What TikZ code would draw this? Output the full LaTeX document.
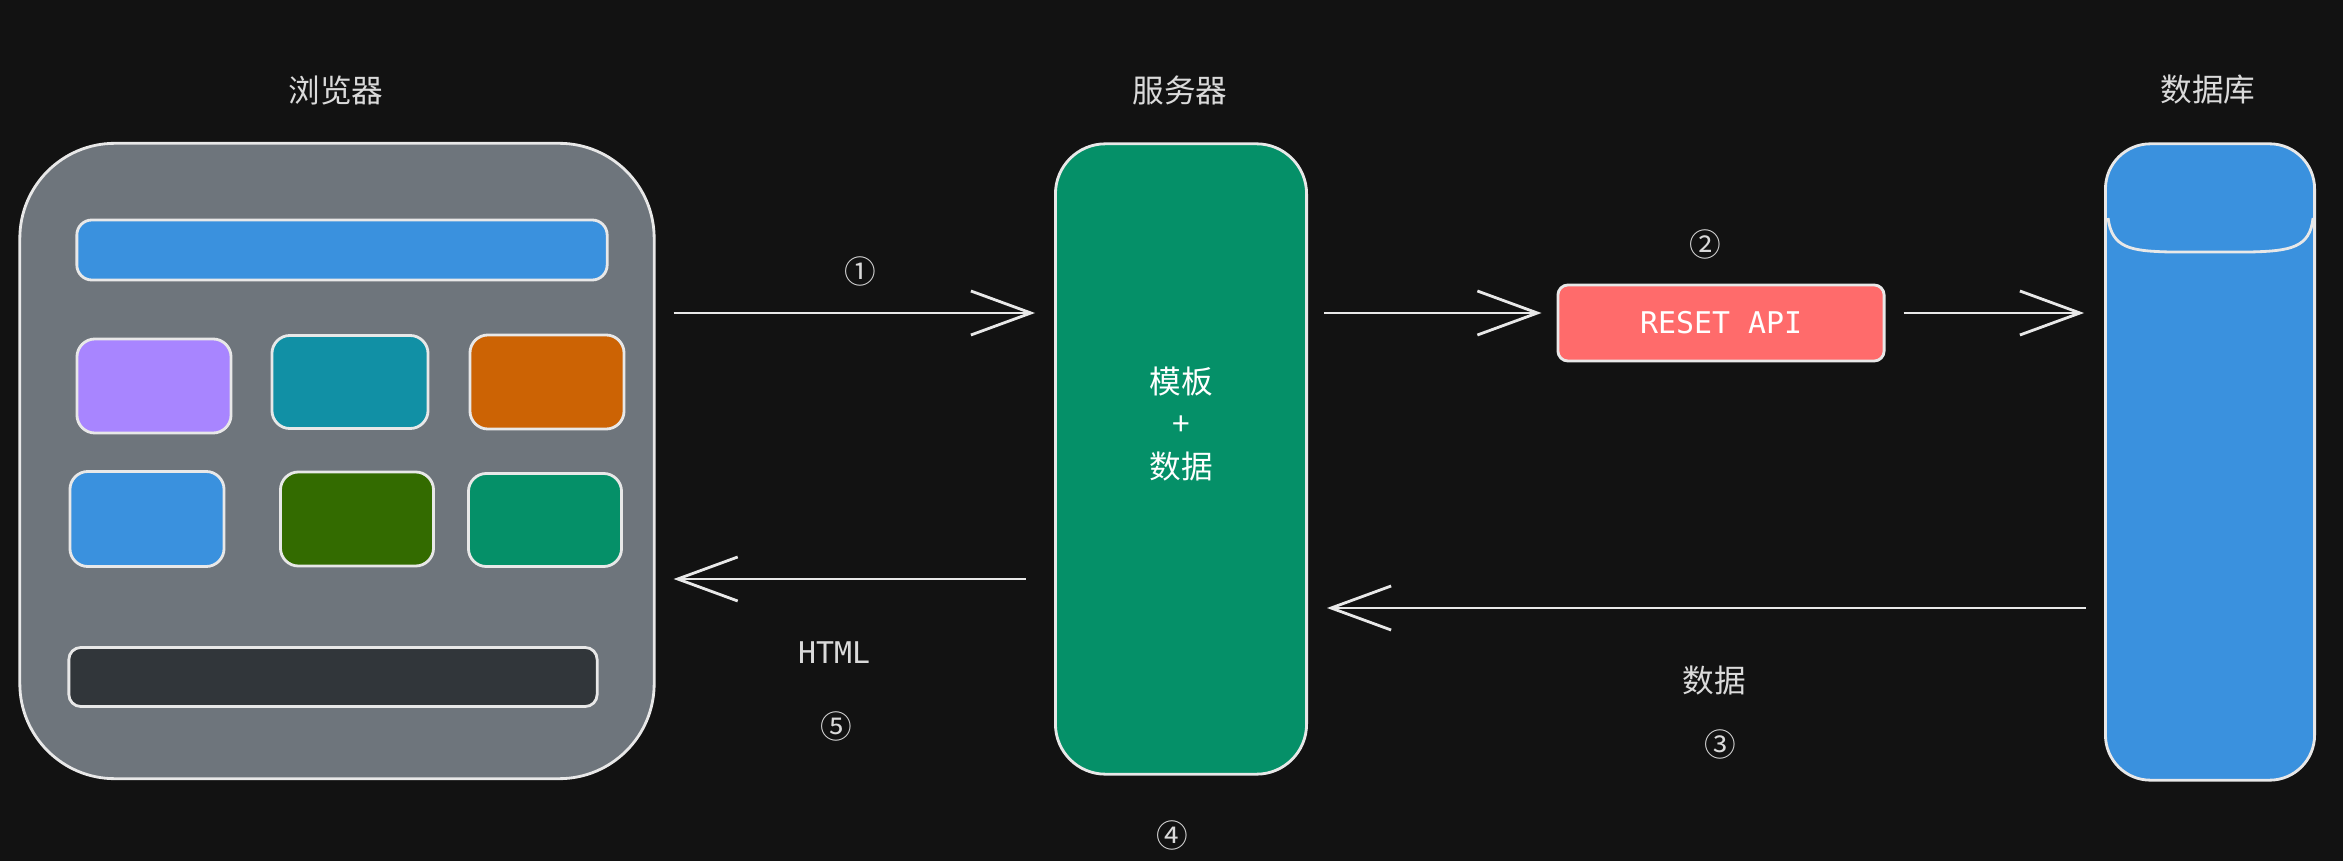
\documentclass[tikz,border=0pt]{standalone}
\usepackage{fontspec}
\setmainfont{Noto Sans CJK SC}
\newfontfamily\monofont{DejaVu Sans Mono}
\usepackage{xcolor}
\usetikzlibrary{arrows.meta, positioning, calc}
\definecolor{bgc}{HTML}{121212}
\definecolor{linec}{HTML}{E8E8E8}
\definecolor{txtc}{HTML}{DADADA}
\definecolor{grayc}{HTML}{6E757C}
\definecolor{bluec}{HTML}{3A91DE}
\definecolor{purplec}{HTML}{A885FF}
\definecolor{tealc}{HTML}{1190A5}
\definecolor{orangec}{HTML}{CC6304}
\definecolor{greenc}{HTML}{336B00}
\definecolor{mintc}{HTML}{059068}
\definecolor{darkc}{HTML}{31363A}
\definecolor{redc}{HTML}{FF6B6B}

\begin{document}
\begin{tikzpicture}[x=0.01cm, y=-0.01cm,
    box/.style={draw=linec, line width=0.8pt, inner sep=0pt},
    arr/.style={draw=linec, line width=0.8pt, -{Straight Barb[length=0.6cm, width=0.44cm]}},
    lbl/.style={text=txtc, font=\fontsize{9pt}{12pt}\selectfont},
    mono/.style={text=txtc, font=\monofont\fontsize{8.5pt}{10pt}\selectfont}]
                    \fill[bgc] (0,0) rectangle (2343,861);
                    \useasboundingbox (0,0) rectangle (2343,861);
                    % browser
                    \node[box, fill=grayc, rounded corners=0.95cm, minimum width=6.34cm, minimum height=6.35cm] (browser) at (337,461) {};
                    \node[box, fill=bluec, rounded corners=0.15cm, minimum width=5.3cm, minimum height=0.6cm] (bar) at (342,250) {};
                    \node[box, fill=purplec, rounded corners=0.18cm, minimum width=1.54cm, minimum height=0.94cm] (c1) at (154,386) {};
                    \node[box, fill=tealc, rounded corners=0.18cm, minimum width=1.56cm, minimum height=0.93cm] (c2) at (350,382) {};
                    \node[box, fill=orangec, rounded corners=0.18cm, minimum width=1.54cm, minimum height=0.94cm] (c3) at (547,382) {};
                    \node[box, fill=bluec, rounded corners=0.18cm, minimum width=1.54cm, minimum height=0.95cm] (c4) at (147,519) {};
                    \node[box, fill=greenc, rounded corners=0.18cm, minimum width=1.53cm, minimum height=0.94cm] (c5) at (357,519) {};
                    \node[box, fill=mintc, rounded corners=0.18cm, minimum width=1.53cm, minimum height=0.93cm] (c6) at (545,520) {};
                    \node[box, fill=darkc, rounded corners=0.12cm, minimum width=5.28cm, minimum height=0.59cm] (foot) at (333,677) {};
                    % server, api, database
                    \node[box, fill=mintc, rounded corners=0.5cm, minimum width=2.51cm, minimum height=6.3cm] (server) at (1181,459) {};
                    \node[box, fill=redc, rounded corners=0.1cm, minimum width=3.26cm, minimum height=0.76cm, mono, text=white] (api) at (1721,323) {RESET API};
                    \node[box, fill=bluec, rounded corners=0.45cm, minimum width=2.09cm, minimum height=6.36cm] (db) at (2210,462) {};
                    \draw[linec, line width=0.8pt] (2108,218) .. controls (2112,248) and (2130,251) .. (2170,252) -- (2250,252) .. controls (2290,251) and (2310,248) .. (2313,218);
                    \node[lbl, align=center, text=white] (tpl) at ([yshift=0.35cm]server.center) {模板\\+\\数据};
                    % titles
                    \node[lbl] (tbrowser) at (336,90) {浏览器};
                    \node[lbl] (tserver) at (1180,90) {服务器};
                    \node[lbl] (tdb) at (2208,90) {数据库};
                    % arrows
                    \coordinate (up) at (0,313);
                    \coordinate (back) at (0,579);
                    \coordinate (rows) at (0,608);
                    \draw[arr, shorten <=0.18cm, shorten >=0.19cm] (browser.east |- up) -- (server.west |- up);
                    \draw[arr, shorten <=0.16cm, shorten >=0.15cm] (server.east |- up) -- (api.west |- up);
                    \draw[arr, shorten <=0.18cm, shorten >=0.2cm] (api.east |- up) -- (db.west |- up);
                    \draw[arr, shorten <=0.18cm, shorten >=0.19cm] (db.west |- rows) -- (server.east |- rows);
                    \draw[arr, shorten <=0.28cm, shorten >=0.18cm] (server.west |- back) -- (browser.east |- back);
                    % labels
                    \node[lbl] (n1) at (860,271) {①};
                    \node[lbl] (n2) at (1705,244) {②};
                    \node[lbl] (n3) at (1720,744) {③};
                    \node[lbl] (n4) at (1172,835) {④};
                    \node[lbl] (n5) at (836,726) {⑤};
                    \node[mono] (html) at (834,653) {HTML};
                    \node[lbl] (data) at (1714,681) {数据};
                \end{tikzpicture}
\end{document}
